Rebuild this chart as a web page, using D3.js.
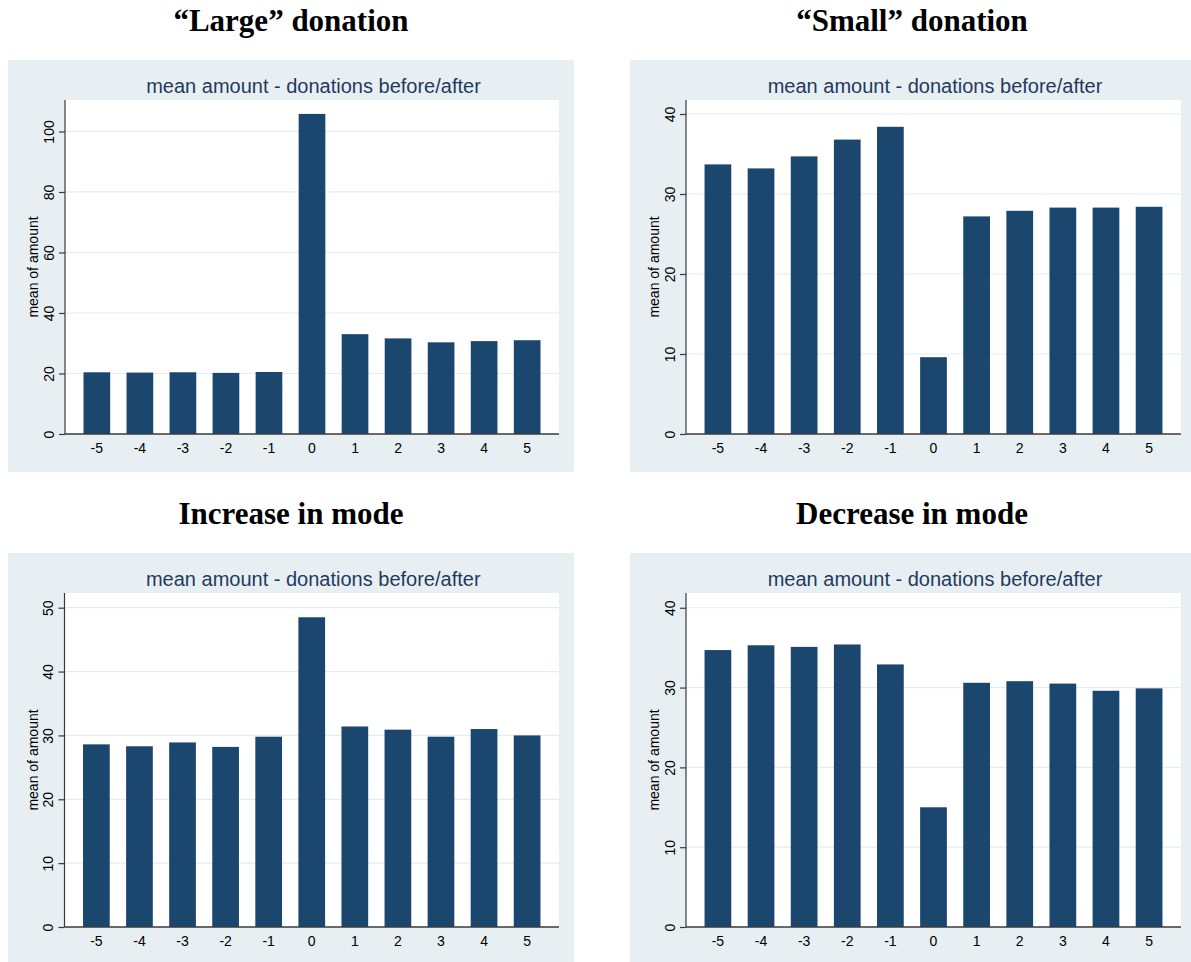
<!DOCTYPE html>
<html>
<head>
<meta charset="utf-8">
<script src="https://cdn.jsdelivr.net/npm/d3@7"></script>
<style>
  html, body { margin: 0; padding: 0; background: #ffffff; }
  svg { display: block; }
</style>
</head>
<body>
<svg id="chart" width="1191" height="962"></svg>
<script>
// Periods relative to the event (x categories)
const periods = [-5, -4, -3, -2, -1, 0, 1, 2, 3, 4, 5];

// Mean donation amount per period, one series per group
const largeValues    = [20.4, 20.3, 20.4, 20.2, 20.5, 105.8, 33.0, 31.6, 30.3, 30.7, 31.0];
const smallValues    = [33.7, 33.2, 34.7, 36.8, 38.4, 9.6, 27.2, 27.9, 28.3, 28.3, 28.4];
const increaseValues = [28.6, 28.3, 28.9, 28.2, 29.8, 48.5, 31.4, 30.9, 29.8, 31.0, 30.0];
const decreaseValues = [34.7, 35.3, 35.1, 35.4, 32.9, 15.0, 30.6, 30.8, 30.5, 29.6, 29.9];

// Y-axis tick labels per panel
const largeTicks    = [0, 20, 40, 60, 80, 100];
const smallTicks    = [0, 10, 20, 30, 40];
const increaseTicks = [0, 10, 20, 30, 40, 50];
const decreaseTicks = [0, 10, 20, 30, 40];

// Panel headings and shared labels
const panelTitles = ["\u201CLarge\u201D donation", "\u201CSmall\u201D donation", "Increase in mode", "Decrease in mode"];
const subTitle = "mean amount - donations before/after";
const yAxisTitle = "mean of amount";

// Upper end of each value axis
const yMaxima = [110.4, 41.75, 52.3, 41.85];

const panels = [
  { title: panelTitles[0], values: largeValues,    ticks: largeTicks,    yMax: yMaxima[0],
    titleX: 291, titleY: 31,  bg: [8, 60, 566, 412],   plot: [65, 100, 559, 434] },
  { title: panelTitles[1], values: smallValues,    ticks: smallTicks,    yMax: yMaxima[1],
    titleX: 912, titleY: 31,  bg: [630, 60, 561, 412], plot: [686, 100, 1181, 434] },
  { title: panelTitles[2], values: increaseValues, ticks: increaseTicks, yMax: yMaxima[2],
    titleX: 291, titleY: 523.5, bg: [8, 553, 566, 409],  plot: [64.5, 593, 559, 927] },
  { title: panelTitles[3], values: decreaseValues, ticks: decreaseTicks, yMax: yMaxima[3],
    titleX: 912, titleY: 523.5, bg: [630, 553, 561, 409], plot: [686, 593, 1181, 927] }
];

const BAR = "#1b466d";
const BG = "#e8eff2";
const GRID = "#e3ecef";
const NAVY = "#1f3a5f";
const AXIS = "#3a3a3a";

const svg = d3.select("#chart");

panels.forEach(p => {
  const [bx, by, bw, bh] = p.bg;
  const [left, top, right, bottom] = p.plot;

  // panel heading above the graph region
  svg.append("text")
    .attr("x", p.titleX).attr("y", p.titleY)
    .attr("text-anchor", "middle")
    .style("font-family", "'Liberation Serif', 'Times New Roman', serif")
    .style("font-weight", "bold")
    .style("font-size", "31px")
    .attr("fill", "#000")
    .text(p.title);

  // graph region background
  svg.append("rect")
    .attr("x", bx).attr("y", by).attr("width", bw).attr("height", bh)
    .attr("fill", BG);

  // plot region
  svg.append("rect")
    .attr("x", left).attr("y", top).attr("width", right - left).attr("height", bottom - top)
    .attr("fill", "#ffffff");

  const x = d3.scaleBand()
    .domain(periods)
    .range([left, right])
    .paddingInner(0.38)
    .paddingOuter(0.43);

  const y = d3.scaleLinear()
    .domain([0, p.yMax])
    .range([bottom, top]);

  // horizontal grid lines
  svg.append("g")
    .selectAll("line")
    .data(p.ticks.filter(t => t > 0))
    .join("line")
    .attr("x1", left).attr("x2", right)
    .attr("y1", d => y(d)).attr("y2", d => y(d))
    .attr("stroke", GRID).attr("stroke-width", 1.2);

  // bars
  svg.append("g")
    .selectAll("rect")
    .data(periods.map((k, i) => ({ k, v: p.values[i] })))
    .join("rect")
    .attr("x", d => x(d.k))
    .attr("y", d => y(d.v))
    .attr("width", x.bandwidth())
    .attr("height", d => y(0) - y(d.v))
    .attr("fill", BAR);

  // y axis with rotated tick labels
  const yAxis = svg.append("g")
    .attr("transform", `translate(${left},0)`)
    .call(d3.axisLeft(y).tickValues(p.ticks).tickSize(6).tickPadding(5).tickSizeOuter(0));
  yAxis.select(".domain").attr("stroke", AXIS).attr("stroke-width", 1.2)
    .attr("d", `M0,${top}V${bottom}`);
  yAxis.selectAll(".tick line").attr("stroke", AXIS).attr("stroke-width", 1.2);
  yAxis.selectAll(".tick text")
    .attr("x", null).attr("dy", null)
    .attr("transform", "translate(-11.5,0) rotate(-90)")
    .attr("text-anchor", "middle")
    .style("font-family", "'Liberation Sans', Arial, sans-serif")
    .style("font-size", "14px")
    .attr("fill", "#000");

  // x axis: category labels only
  const xAxis = svg.append("g")
    .attr("transform", `translate(0,${bottom})`)
    .call(d3.axisBottom(x).tickSize(0).tickPadding(0).tickSizeOuter(0));
  xAxis.select(".domain").attr("stroke", AXIS).attr("stroke-width", 1.4)
    .attr("d", `M${left},0H${right}`);
  xAxis.selectAll(".tick text")
    .attr("y", 19.3).attr("dy", null)
    .style("font-family", "'Liberation Sans', Arial, sans-serif")
    .style("font-size", "14px")
    .attr("fill", "#000");

  // y axis title
  svg.append("text")
    .attr("transform", `translate(${left - 27},${(top + bottom) / 2}) rotate(-90)`)
    .attr("text-anchor", "middle")
    .style("font-family", "'Liberation Sans', Arial, sans-serif")
    .style("font-size", "14px")
    .attr("fill", "#000")
    .text(yAxisTitle);

  // graph subtitle
  svg.append("text")
    .attr("x", (left + right) / 2 + 1.5)
    .attr("y", top - 7.5)
    .attr("text-anchor", "middle")
    .style("font-family", "'Liberation Sans', Arial, sans-serif")
    .style("font-size", "20px")
    .attr("fill", NAVY)
    .text(subTitle);
});
</script>
</body>
</html>
